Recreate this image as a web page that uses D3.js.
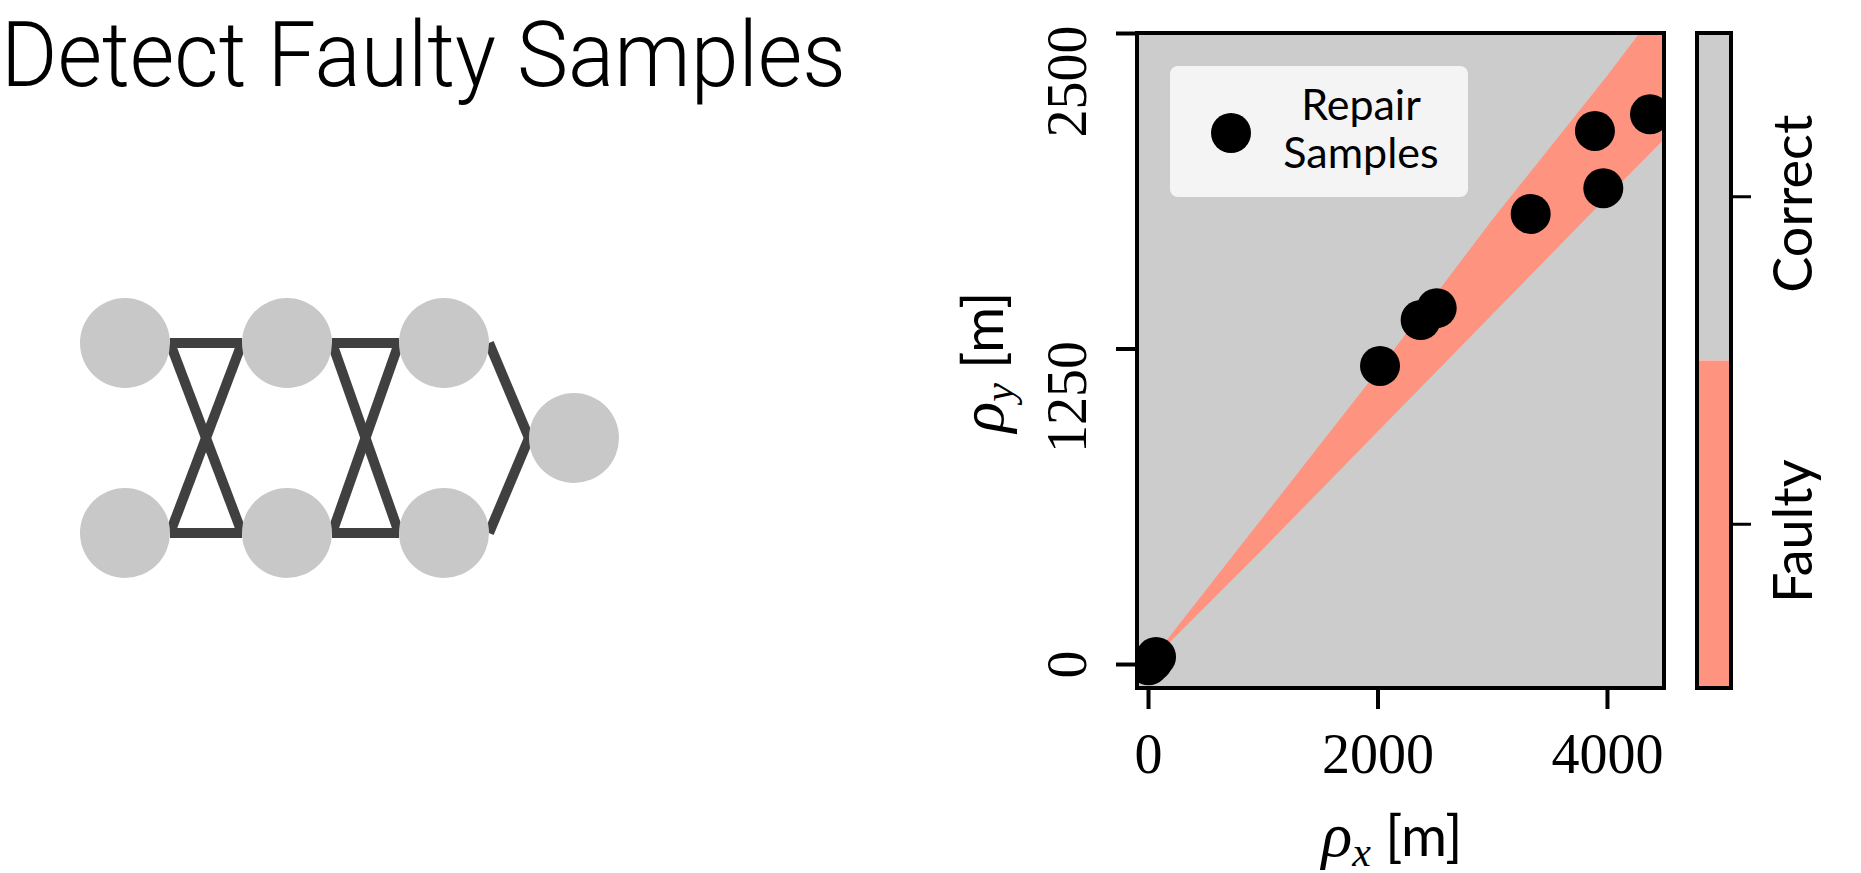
<!DOCTYPE html>
<html>
<head>
<meta charset="utf-8">
<script src="https://cdn.jsdelivr.net/npm/d3@7"></script>
<style>
  body { margin: 0; background: #fff; }
  svg { display: block; }
</style>
</head>
<body>
<svg id="chart" width="1861" height="873"></svg>
<script>
// repair samples, rho_x / rho_y in metres
var sampleX = [5, 40, 70, 2022, 2376, 2516, 3335, 3968, 3895, 4375];
var sampleY = [-5, 10, 28, 1181, 1363, 1410, 1783, 1885, 2112, 2178];

// edges of the faulty band
var bandX     = [0, 1000, 2000, 3000, 4000, 4500];
var bandUpper = [0, 580, 1160, 1760, 2330, 2630];
var bandLower = [0, 455, 920, 1385, 1850, 2080];

var xTicks = [0, 2000, 4000];
var yTicks = [0, 1250, 2500];
var classes = ["Correct", "Faulty"];

// little network sketch: layer and slot of each node, then the links
var nodeLayer = [0, 0, 1, 1, 2, 2, 3];
var nodeSlot  = [0, 1, 0, 1, 0, 1, 0.5];
var edgeFrom  = [0, 0, 1, 1, 2, 2, 3, 3, 4, 5];
var edgeTo    = [2, 3, 2, 3, 4, 5, 4, 5, 6, 6];

var grey = "#cccccc", salmon = "#fe9380";
var serif = "'Liberation Serif', 'DejaVu Serif', serif";
var sans = "Lato, 'Open Sans', sans-serif";

var svg = d3.select("#chart");

// ---- title
svg.append("text")
    .attr("x", 1)
    .attr("y", 86)
    .attr("textLength", 845)
    .attr("lengthAdjust", "spacingAndGlyphs")
    .style("font-family", "Roboto, 'Open Sans', sans-serif")
    .style("font-weight", 300)
    .style("font-size", "90px")
    .text("Detect Faulty Samples");

// ---- network
var lx = d3.scaleLinear().domain([0, 1, 2, 3]).range([125, 287, 444, 574]);
var ly = d3.scaleLinear().domain([0, 1]).range([343, 533]);
var nodeR = 45;

var net = svg.append("g");
net.selectAll(".edge")
    .data(d3.range(edgeFrom.length))
    .enter()
  .append("line")
    .attr("class", "edge")
    .attr("x1", function(i) { return lx(nodeLayer[edgeFrom[i]]) + nodeR; })
    .attr("y1", function(i) { return ly(nodeSlot[edgeFrom[i]]); })
    .attr("x2", function(i) { return lx(nodeLayer[edgeTo[i]]) - nodeR; })
    .attr("y2", function(i) { return ly(nodeSlot[edgeTo[i]]); })
    .style("stroke", "#404040")
    .style("stroke-width", 10);

net.selectAll(".node")
    .data(d3.range(nodeLayer.length))
    .enter()
  .append("circle")
    .attr("class", "node")
    .attr("cx", function(i) { return lx(nodeLayer[i]); })
    .attr("cy", function(i) { return ly(nodeSlot[i]); })
    .attr("r", nodeR)
    .style("fill", "#c8c8c8");

// ---- scatter panel
var x = d3.scaleLinear().domain([-96, 4497]).range([1137, 1664]);
var y = d3.scaleLinear().domain([-95, 2500]).range([688, 33]);

svg.append("clipPath")
    .attr("id", "plotclip")
  .append("rect")
    .attr("x", x.range()[0])
    .attr("y", y.range()[1])
    .attr("width", x.range()[1] - x.range()[0])
    .attr("height", y.range()[0] - y.range()[1]);

var plot = svg.append("g").attr("clip-path", "url(#plotclip)");

plot.append("rect")
    .attr("x", x.range()[0])
    .attr("y", y.range()[1])
    .attr("width", x.range()[1] - x.range()[0])
    .attr("height", y.range()[0] - y.range()[1])
    .style("fill", grey);

var band = d3.area()
    .x(function(i) { return x(bandX[i]); })
    .y0(function(i) { return y(bandLower[i]); })
    .y1(function(i) { return y(bandUpper[i]); });

plot.append("path")
    .attr("d", band(d3.range(bandX.length)))
    .style("fill", salmon);

plot.selectAll(".dot")
    .data(d3.range(sampleX.length))
    .enter()
  .append("circle")
    .attr("class", "dot")
    .attr("cx", function(i) { return x(sampleX[i]); })
    .attr("cy", function(i) { return y(sampleY[i]); })
    .attr("r", 20)
    .style("fill", "#000");

// legend
var leg = svg.append("g");
leg.append("rect")
    .attr("x", 1170).attr("y", 66)
    .attr("width", 298).attr("height", 131)
    .attr("rx", 8)
    .style("fill", "#f4f4f4");
leg.append("circle")
    .attr("cx", 1231).attr("cy", 133).attr("r", 20)
    .style("fill", "#000");
leg.selectAll("text")
    .data(["Repair", "Samples"])
    .enter()
  .append("text")
    .attr("x", 1361)
    .attr("y", function(d, i) { return 120 + i * 48; })
    .attr("text-anchor", "middle")
    .style("font-family", sans)
    .style("font-size", "43px")
    .text(function(d) { return d; });

// axes
var xAxis = svg.append("g")
    .attr("transform", "translate(0," + y.range()[0] + ")")
    .call(d3.axisBottom(x).tickValues(xTicks).tickSize(21).tickFormat(d3.format("d")));

var yAxis = svg.append("g")
    .attr("transform", "translate(" + x.range()[0] + ",0)")
    .call(d3.axisLeft(y).tickValues(yTicks).tickSize(21).tickFormat(d3.format("d")));

[xAxis, yAxis].forEach(function(a) {
  a.select(".domain").remove();
  a.selectAll(".tick line").style("stroke", "#000").style("stroke-width", 4);
  a.selectAll(".tick text")
      .style("font-family", serif)
      .style("font-size", "56px")
      .style("fill", "#000");
});

xAxis.selectAll(".tick text")
    .attr("y", 85)
    .attr("dy", 0);

// rotated labels sit a little below their tick, more so the longer they are
yAxis.selectAll(".tick text")
    .attr("x", 0)
    .attr("dy", 0)
    .attr("text-anchor", "middle")
    .attr("transform", function(d) {
      var shift = (String(d).length - 1) * 16;
      return "translate(-51," + shift + ") rotate(-90)";
    });

// frame
svg.append("rect")
    .attr("x", x.range()[0])
    .attr("y", y.range()[1])
    .attr("width", x.range()[1] - x.range()[0])
    .attr("height", y.range()[0] - y.range()[1])
    .style("fill", "none")
    .style("stroke", "#000")
    .style("stroke-width", 4);

// axis titles
function axisTitle(t, sub) {
  t.append("tspan").style("font-family", serif).style("font-style", "italic").style("font-size", "64px").text("ρ");
  t.append("tspan").style("font-family", serif).style("font-style", "italic").style("font-size", "42px").attr("dy", 10).text(sub);
  t.append("tspan").style("font-family", sans).style("font-size", "56px").attr("dy", -10).text(" [m]");
}

axisTitle(svg.append("text")
    .attr("x", 1392)
    .attr("y", 856)
    .attr("text-anchor", "middle"), "x");

axisTitle(svg.append("text")
    .attr("transform", "translate(1003,362) rotate(-90)")
    .attr("text-anchor", "middle"), "y");

// ---- colour bar
var cb = d3.scaleBand().domain(classes).range([33, 688]);
var cbx = 1697, cbw = 34;

svg.selectAll(".cbcell")
    .data(classes)
    .enter()
  .append("rect")
    .attr("class", "cbcell")
    .attr("x", cbx)
    .attr("y", function(d) { return cb(d); })
    .attr("width", cbw)
    .attr("height", cb.bandwidth())
    .style("fill", function(d) { return d == "Faulty" ? salmon : grey; });

var cbAxis = svg.append("g")
    .attr("transform", "translate(" + (cbx + cbw) + ",0)")
    .call(d3.axisRight(cb).tickSize(20));
cbAxis.select(".domain").remove();
cbAxis.selectAll(".tick line").style("stroke", "#000").style("stroke-width", 3);
cbAxis.selectAll(".tick text")
    .attr("x", 0)
    .attr("dy", 0)
    .attr("text-anchor", "middle")
    .attr("transform", "translate(81,7) rotate(-90)")
    .style("font-family", sans)
    .style("font-size", "54px")
    .style("fill", "#000");

svg.append("rect")
    .attr("x", cbx).attr("y", 33)
    .attr("width", cbw).attr("height", 655)
    .style("fill", "none")
    .style("stroke", "#000")
    .style("stroke-width", 4);
</script>
</body>
</html>
